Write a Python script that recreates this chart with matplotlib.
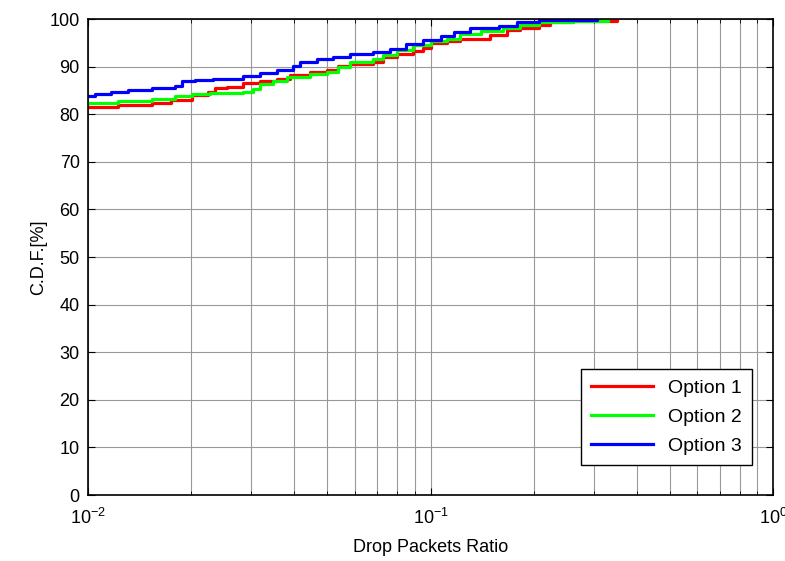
import matplotlib
matplotlib.use('Agg')
from matplotlib import pyplot as plt
from matplotlib.ticker import LogLocator, MultipleLocator

plt.rcParams['font.family'] = ['Liberation Sans', 'DejaVu Sans']
plt.rcParams['mathtext.fontset'] = 'custom'
plt.rcParams['mathtext.rm'] = 'Liberation Sans'
plt.rcParams['mathtext.default'] = 'regular'

# Option 1 (red)
opt1_x = [0.01, 0.0122, 0.0154, 0.0175, 0.0201, 0.0224, 0.0235, 0.0255, 0.0284, 0.0318,
          0.0356, 0.0389, 0.0445, 0.0499, 0.0537, 0.0583, 0.068, 0.0726, 0.0797, 0.089,
          0.095, 0.1, 0.112, 0.122, 0.149, 0.167, 0.183, 0.208, 0.223, 0.26, 0.35]
opt1_y = [81.6, 81.9, 82.4, 83.0, 84.0, 84.6, 85.4, 85.8, 86.5, 87.0,
          87.5, 88.2, 88.8, 89.3, 90.2, 90.5, 91.0, 92.1, 92.6, 93.3,
          94.0, 94.9, 95.4, 95.8, 96.7, 97.7, 98.2, 98.8, 99.3, 99.6, 100.0]

# Option 2 (green)
opt2_x = [0.01, 0.0122, 0.0154, 0.018, 0.0201, 0.0227, 0.0284, 0.0303, 0.0318, 0.0347,
          0.038, 0.0445, 0.0499, 0.0537, 0.0583, 0.068, 0.0726, 0.0797, 0.089, 0.1,
          0.112, 0.122, 0.14, 0.163, 0.183, 0.208, 0.26, 0.33]
opt2_y = [82.3, 82.8, 83.2, 83.9, 84.2, 84.4, 84.7, 85.3, 86.3, 87.0,
          87.9, 88.4, 88.9, 90.0, 90.9, 91.6, 92.4, 93.5, 94.5, 95.4,
          95.9, 96.8, 97.5, 98.2, 98.8, 99.3, 99.6, 100.0]

# Option 3 (blue)
opt3_x = [0.01, 0.0105, 0.0117, 0.0131, 0.0154, 0.018, 0.0188, 0.0205, 0.0232, 0.0243,
          0.0284, 0.0318, 0.0356, 0.0397, 0.0416, 0.0466, 0.052, 0.0583, 0.068, 0.076,
          0.085, 0.095, 0.107, 0.117, 0.13, 0.159, 0.179, 0.208, 0.306]
opt3_y = [83.8, 84.2, 84.7, 85.1, 85.4, 85.9, 87.0, 87.1, 87.4, 87.5,
          88.1, 88.6, 89.3, 90.2, 91.0, 91.6, 92.1, 92.6, 93.1, 93.8,
          94.7, 95.6, 96.5, 97.2, 98.1, 98.6, 99.3, 99.8, 100.0]

labels = ['Option 1', 'Option 2', 'Option 3']
colors = ['#ff0000', '#00ff00', '#0000ff']

fig = plt.figure(figsize=(7.85, 5.61), dpi=100)
ax = fig.add_axes([88/785, 66/561, 685/785, 476/561])

for xs, ys, lab, c in zip([opt1_x, opt2_x, opt3_x], [opt1_y, opt2_y, opt3_y], labels, colors):
    ax.plot(xs, ys, color=c, lw=2.3, drawstyle='steps-post', label=lab)

ax.set_xscale('log')
ax.set_xlim(0.01, 1)
ax.set_ylim(0, 100)
ax.yaxis.set_major_locator(MultipleLocator(10))
ax.xaxis.set_minor_locator(LogLocator(base=10, subs=range(2, 10)))

ax.grid(True, which='major', color='#999999', lw=0.8)
ax.grid(True, which='minor', axis='x', color='#999999', lw=0.8)
ax.set_axisbelow(True)

ax.tick_params(which='both', direction='in', top=True, right=True, labelsize=13, colors='black')
ax.tick_params(which='major', length=5)
ax.tick_params(which='minor', length=3)
ax.tick_params(axis='x', which='major', pad=9)
ax.tick_params(axis='y', which='major', pad=6)
for s in ax.spines.values():
    s.set_linewidth(1.2)

ax.set_xlabel('Drop Packets Ratio', fontsize=13, labelpad=8)
ax.set_ylabel('C.D.F.[%]', fontsize=13, labelpad=2)

leg = ax.legend(loc='lower right', bbox_to_anchor=(0.969, 0.063), borderaxespad=0,
                fontsize=14, handlelength=3.2, fancybox=False, framealpha=1,
                edgecolor='black', labelspacing=0.6, borderpad=0.5)
leg.get_frame().set_linewidth(1)

plt.savefig('out.png', dpi=100)
